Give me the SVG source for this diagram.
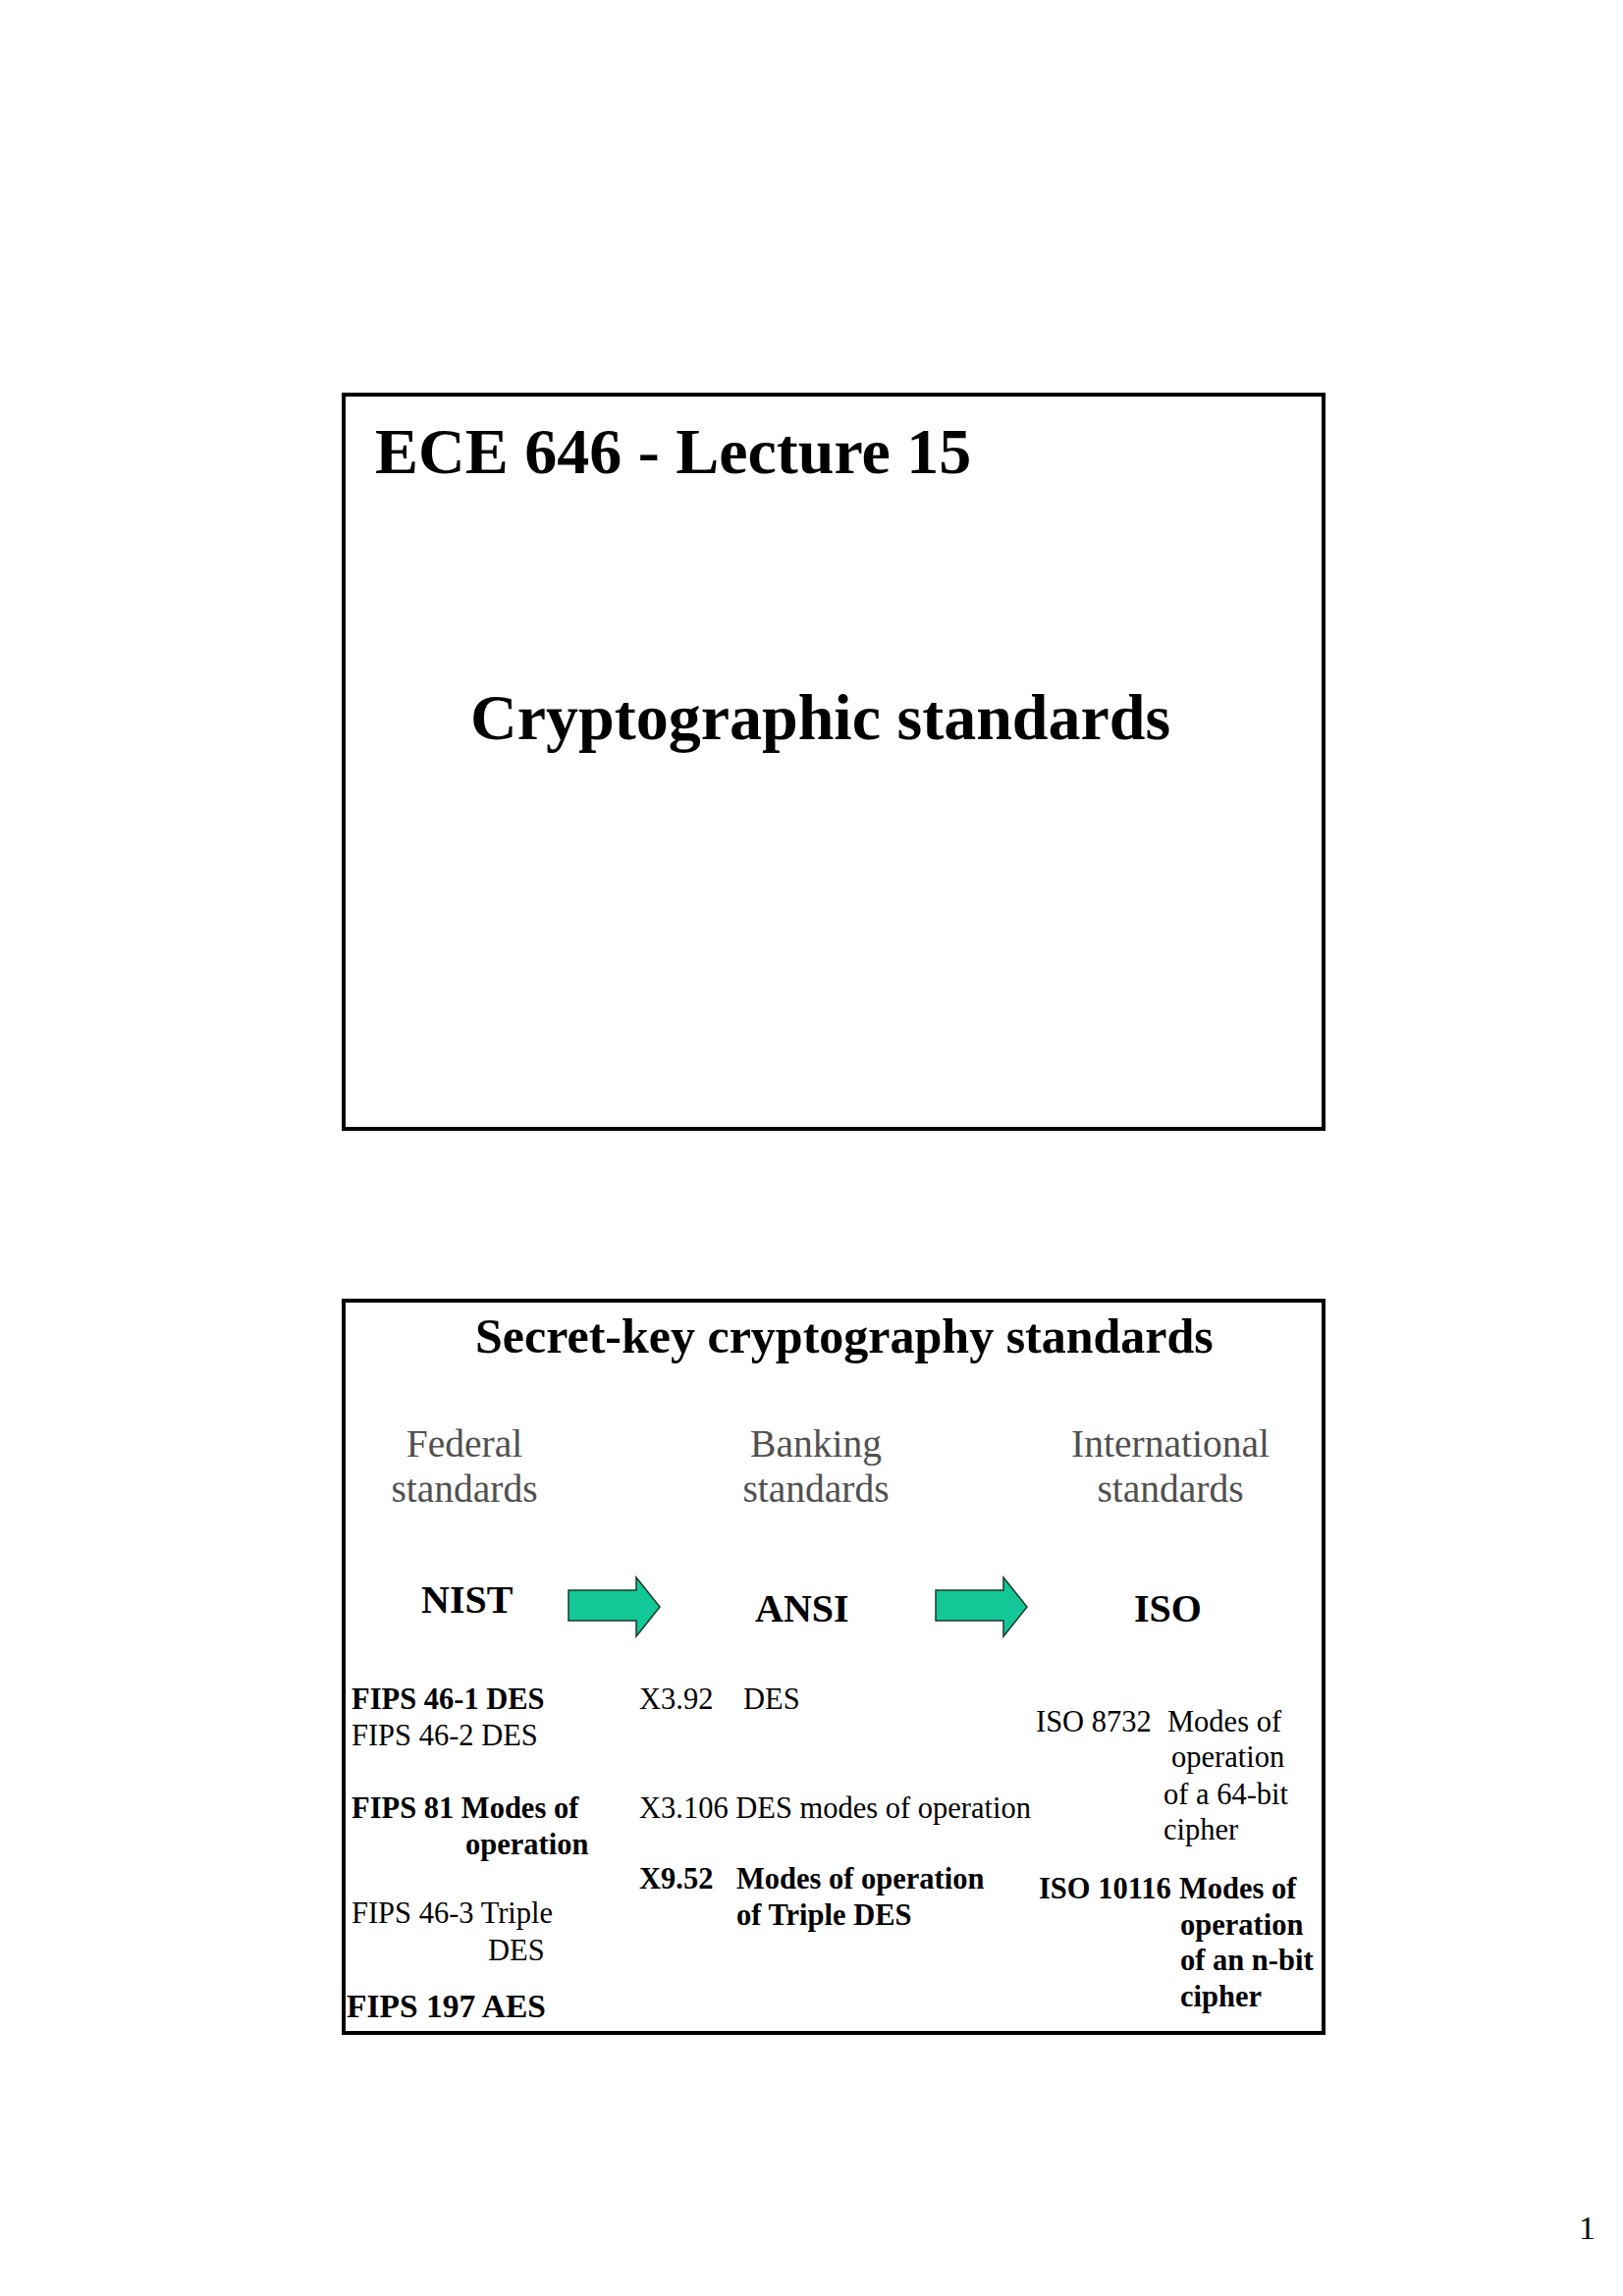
<svg xmlns="http://www.w3.org/2000/svg" width="1653" height="2339" viewBox="0 0 1653 2339">
<style>
text{font-family:"Liberation Serif","Times New Roman",serif;fill:#000}
.b{font-weight:bold}
.frame{fill:none;stroke:#000;stroke-width:4}
.h1{font-size:66px;font-weight:bold}
.h2{font-size:50px;font-weight:bold}
.cat{font-size:39.5px;fill:#505050;text-anchor:middle}
.org{font-size:40px;font-weight:bold}
.t{font-size:30.5px}
.arrow{fill:#14C796;stroke:#1a3a2e;stroke-width:1.5;stroke-linejoin:miter}
</style>
<rect width="1653" height="2339" fill="#fff"/>
<g id="slide1">
<rect class="frame" x="350" y="402" width="998" height="748"/>
<text class="h1" x="382" y="482">ECE 646 - Lecture 15</text>
<text class="h1" x="479" y="753">Cryptographic standards</text>
</g>
<g id="slide2">
<rect class="frame" x="350" y="1325" width="998" height="746"/>
<text class="h2" x="484" y="1378">Secret-key cryptography standards</text>
<g id="federal">
<text class="cat" x="473" y="1484">Federal</text>
<text class="cat" x="473" y="1530">standards</text>
</g>
<g id="banking">
<text class="cat" x="831" y="1484">Banking</text>
<text class="cat" x="831" y="1530">standards</text>
</g>
<g id="international">
<text class="cat" x="1192" y="1484">International</text>
<text class="cat" x="1192" y="1530">standards</text>
</g>
<g id="nist"><text class="org" x="429" y="1643">NIST</text></g>
<g id="ansi"><text class="org" x="769" y="1652">ANSI</text></g>
<g id="iso"><text class="org" x="1155" y="1652">ISO</text></g>
<g id="connectors">
<polygon class="arrow" points="579,1620 648,1620 648,1607 672,1637 648,1667 648,1651 579,1651"/>
<polygon class="arrow" points="953,1620 1022,1620 1022,1607 1046,1637 1022,1667 1022,1651 953,1651"/>
</g>
<g id="nist-list">
<text class="t b" x="358" y="1741">FIPS 46-1 DES</text>
<text class="t" x="358" y="1778">FIPS 46-2 DES</text>
<text class="t b" x="358" y="1852">FIPS 81 Modes of</text>
<text class="t b" x="474" y="1889">operation</text>
<text class="t" x="358" y="1959">FIPS 46-3 Triple</text>
<text class="t" x="497" y="1997">DES</text>
<text class="b" style="font-size:33.5px" x="353" y="2055">FIPS 197 AES</text>
</g>
<g id="ansi-list">
<text class="t" x="651" y="1741">X3.92</text>
<text class="t" x="757" y="1741">DES</text>
<text class="t" x="651" y="1852">X3.106 DES modes of operation</text>
<text class="t b" x="651" y="1924">X9.52</text>
<text class="t b" x="750" y="1924">Modes of operation</text>
<text class="t b" x="750" y="1961">of Triple DES</text>
</g>
<g id="iso-list">
<text class="t" x="1055" y="1764">ISO 8732</text>
<text class="t" x="1189" y="1764">Modes of</text>
<text class="t" x="1193" y="1800">operation</text>
<text class="t" x="1185" y="1838">of a 64-bit</text>
<text class="t" x="1185" y="1874">cipher</text>
<text class="t b" x="1058" y="1934">ISO 10116</text>
<text class="t b" x="1201" y="1934">Modes of</text>
<text class="t b" x="1202" y="1971">operation</text>
<text class="t b" x="1202" y="2007">of an n-bit</text>
<text class="t b" x="1202" y="2044">cipher</text>
</g>
</g>
<g id="page-number"><text style="font-size:34px" x="1608" y="2281">1</text></g>
</svg>
